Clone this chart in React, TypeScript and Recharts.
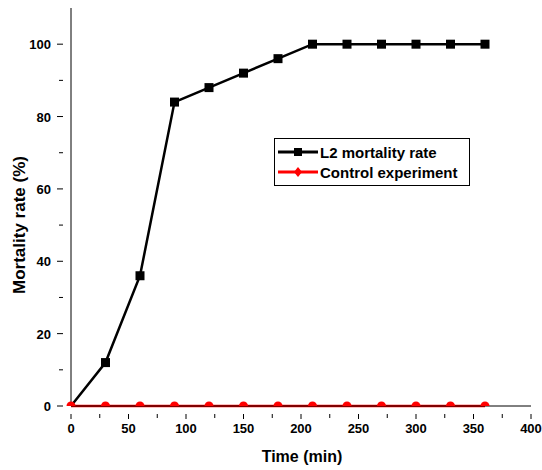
import { Label, Legend, Line, LineChart, XAxis, YAxis } from "recharts";

const times = [0, 30, 60, 90, 120, 150, 180, 210, 240, 270, 300, 330, 360];
const l2Mortality = [0, 12, 36, 84, 88, 92, 96, 100, 100, 100, 100, 100, 100];
const control = [0, 0, 0, 0, 0, 0, 0, 0, 0, 0, 0, 0, 0];

const xTicks = [0, 25, 50, 75, 100, 125, 150, 175, 200, 225, 250, 275, 300, 325, 350, 375, 400];
const yTicks = [0, 10, 20, 30, 40, 50, 60, 70, 80, 90, 100, 110];

const data = times.map((t, i) => ({ t, l2: l2Mortality[i], ctrl: control[i] }));

const FONT = "'Liberation Sans', Arial, sans-serif";

// minor ticks are shorter and carry no label
const YTick = (p: any) => {
  const v = p.payload.value;
  if (v > 100) return null;
  const major = v % 20 === 0;
  return (
    <g>
      <line x1={p.x} x2={p.x - (major ? 6 : 4)} y1={p.y} y2={p.y} stroke="#000" strokeWidth={1} />
      {major && (
        <text x={p.x - 12} y={p.y + 5} textAnchor="end" fontFamily={FONT} fontWeight="bold" fontSize={13} fill="#000">
          {v}
        </text>
      )}
    </g>
  );
};

const XTick = (p: any) => {
  const v = p.payload.value;
  const major = v % 50 === 0;
  return (
    <g>
      <line x1={p.x} x2={p.x} y1={p.y} y2={p.y + (major ? 5 : 4)} stroke="#000" strokeWidth={1} />
      {major && (
        <text x={p.x} y={p.y + 19} textAnchor="middle" fontFamily={FONT} fontWeight="bold" fontSize={13} fill="#000">
          {v}
        </text>
      )}
    </g>
  );
};

const Square = (p: any) =>
  p.value === 0 ? (
    <g key={`s${p.index}`} />
  ) : (
    <rect key={`s${p.index}`} x={p.cx - 4.5} y={p.cy - 4.5} width={9} height={9} fill="#000" />
  );

const HalfDot = (p: any) => (
  <path
    key={`d${p.index}`}
    d={`M${p.cx - 4.5},${p.cy} A4.5,4.5 0 0,1 ${p.cx + 4.5},${p.cy} Z`}
    fill="#ff0000"
  />
);

const LegendBox = () => {
  const rows = [
    { name: "L2 mortality rate", color: "#000", square: true },
    { name: "Control experiment", color: "#ff0000", square: false },
  ];
  return (
    <div
      style={{
        border: "1px solid #000",
        background: "#fff",
        width: 196,
        height: 48,
        boxSizing: "border-box",
        padding: "3px 0 0 3px",
        fontFamily: FONT,
        fontWeight: "bold",
        fontSize: 15,
      }}
    >
      {rows.map((r) => (
        <div key={r.name} style={{ display: "flex", alignItems: "center", height: 20 }}>
          <svg width={40} height={12} style={{ marginRight: 2 }}>
            <line x1={0} x2={40} y1={6} y2={6} stroke={r.color} strokeWidth={3} />
            {r.square ? (
              <rect x={16} y={2} width={8} height={8} fill={r.color} />
            ) : (
              <path d="M20,1 L24,6 L20,11 L16,6 Z" fill={r.color} />
            )}
          </svg>
          <span style={{ color: "#000" }}>{r.name}</span>
        </div>
      ))}
    </div>
  );
};

export default function App() {
  return (
    <div style={{ position: "absolute", left: 0, top: 0, background: "#fff" }}>
      <LineChart width={542} height={470} data={data} margin={{ top: 8, right: 11, left: 11, bottom: 24 }}>
        <XAxis
          dataKey="t"
          type="number"
          domain={[0, 400]}
          ticks={xTicks}
          interval={0}
          height={40}
          axisLine={{ stroke: "#000", strokeWidth: 1 }}
          tickLine={false}
          tick={<XTick />}
        >
          <Label
            content={() => (
              <text x={302} y={462} textAnchor="middle" fontFamily={FONT} fontWeight="bold" fontSize={16} fill="#000">
                Time (min)
              </text>
            )}
          />
        </XAxis>
        <YAxis
          type="number"
          domain={[0, 110]}
          ticks={yTicks}
          interval={0}
          width={60}
          axisLine={{ stroke: "#000", strokeWidth: 1 }}
          tickLine={false}
          tick={<YTick />}
        >
          <Label
            content={() => (
              <text
                x={25}
                y={225}
                transform="rotate(-90 25 225)"
                textAnchor="middle"
                fontFamily={FONT}
                fontWeight="bold"
                fontSize={17}
                fill="#000"
              >
                Mortality rate (%)
              </text>
            )}
          />
        </YAxis>
        <Legend
          layout="vertical"
          align="center"
          verticalAlign="middle"
          content={<LegendBox />}
          wrapperStyle={{ position: "absolute", left: 274, top: 138, width: 196 }}
        />
        <Line
          dataKey="l2"
          name="L2 mortality rate"
          stroke="#000"
          strokeWidth={2.5}
          dot={<Square />}
          isAnimationActive={false}
        />
        <Line
          dataKey="ctrl"
          name="Control experiment"
          stroke="#ff0000"
          strokeWidth={2.5}
          dot={<HalfDot />}
          isAnimationActive={false}
        />
      </LineChart>
    </div>
  );
}
